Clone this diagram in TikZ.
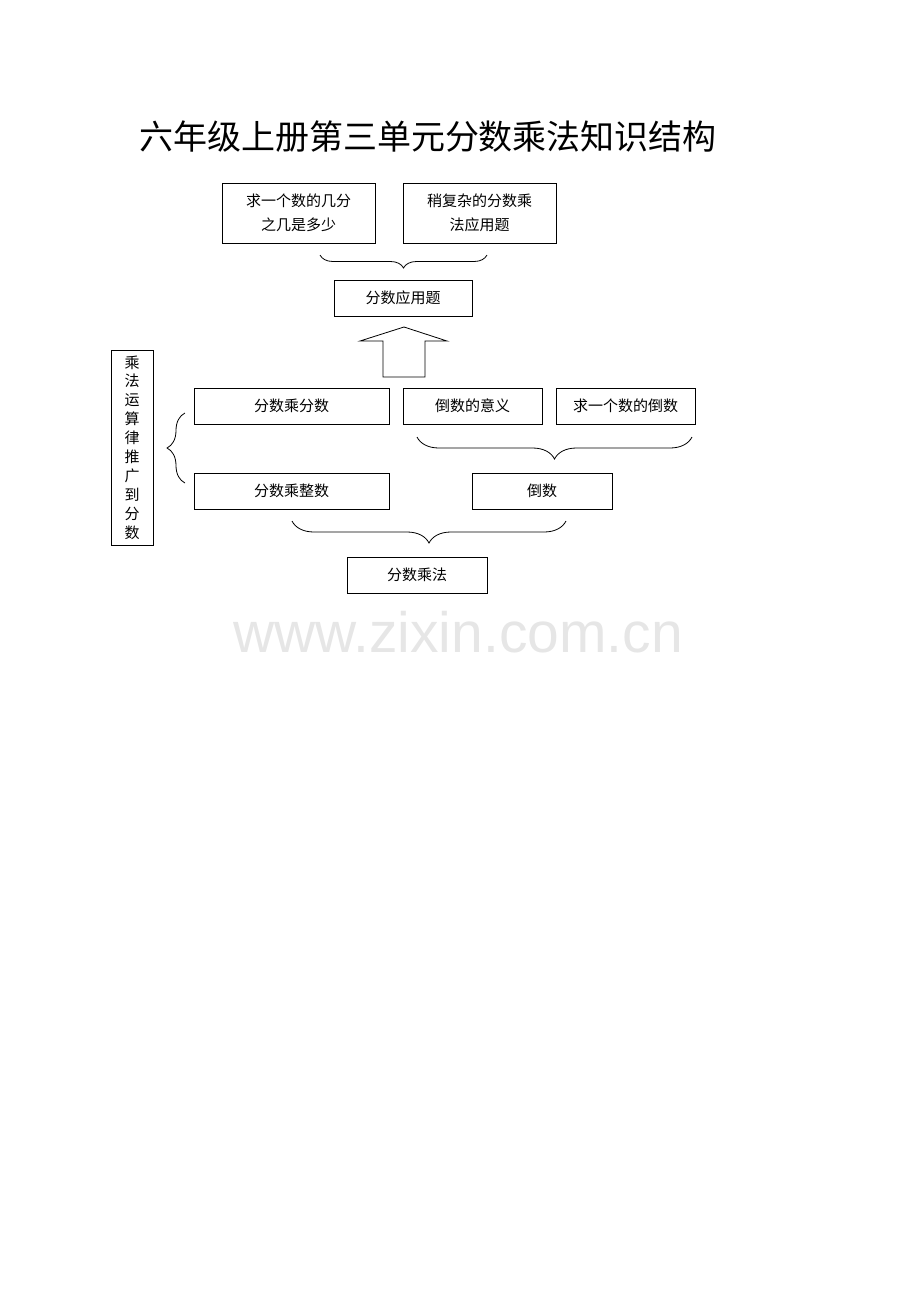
\documentclass[tikz,border=0pt]{standalone}
\usepackage{fontspec}
\setmainfont{Liberation Serif}
\newfontfamily\cjk{Noto Sans CJK SC}
\newfontfamily\wmfont{Liberation Sans}
\usetikzlibrary{decorations.pathreplacing}
\definecolor{wmgray}{HTML}{E6E6E6}
\begin{document}
\begin{tikzpicture}[x=1pt,y=-1pt,
  box/.style={draw, line width=0.8pt, inner sep=0pt, align=center,
    font=\cjk\fontsize{15}{24}\selectfont},
  brc/.style={decorate, decoration={brace, amplitude=#1}, line width=0.8pt},
  brc/.default=13pt]
\useasboundingbox (0,0) rectangle (920,1302);
% title
\node[font=\cjk\fontsize{34}{36}\selectfont] (title) at (428,137) {六年级上册第三单元分数乘法知识结构};
% top boxes
\node[box, minimum width=153pt, minimum height=60pt] (b1) at (298.5,213) {求一个数的几分\\之几是多少};
\node[box, minimum width=153pt, minimum height=60pt] (b2) at (479.5,213) {稍复杂的分数乘\\法应用题};
\coordinate (t1) at (487,255);
\coordinate (t2) at (320,255);
\draw[brc=13pt] (t1) -- (t2);
\node[box, minimum width=138pt, minimum height=36pt] (b3) at (403,298) {分数应用题};
% hollow arrow
\draw[line width=0.8pt] (383,377) -- (383,341) -- (360,341) -- (404,327) -- (447,341) -- (425,341) -- (425,377) -- cycle;
% left vertical box
\node[box, minimum width=42pt, minimum height=195pt, font=\cjk\fontsize{15}{18.9}\selectfont] (lb) at (132,447.5) {乘\\法\\运\\算\\律\\推\\广\\到\\分\\数};
\coordinate (l1) at (185,483);
\coordinate (l2) at (185,413);
\draw[brc=18pt] (l1) -- (l2);
% row 1
\node[box, minimum width=195pt, minimum height=36pt] (r1a) at (291.5,406) {分数乘分数};
\node[box, minimum width=139pt, minimum height=36pt] (r1b) at (472.5,406) {倒数的意义};
\node[box, minimum width=139pt, minimum height=36pt] (r1c) at (625.5,406) {求一个数的倒数};
\coordinate (m1) at (692,437);
\coordinate (m2) at (417,437);
\draw[brc=22pt] (m1) -- (m2);
% row 2
\node[box, minimum width=195pt, minimum height=36pt] (r2a) at (291.5,491) {分数乘整数};
\node[box, minimum width=140pt, minimum height=36pt] (r2b) at (542,491) {倒数};
\coordinate (n1) at (566,521);
\coordinate (n2) at (292,521);
\draw[brc=22pt] (n1) -- (n2);
% bottom
\node[box, minimum width=140pt, minimum height=36pt] (bt) at (417,575) {分数乘法};
% watermark
\node[anchor=base, text=wmgray, font=\wmfont\fontsize{57}{60}\selectfont, inner sep=0pt] (wm) at (458,652) {www.zixin.com.cn};
\end{tikzpicture}
\end{document}
